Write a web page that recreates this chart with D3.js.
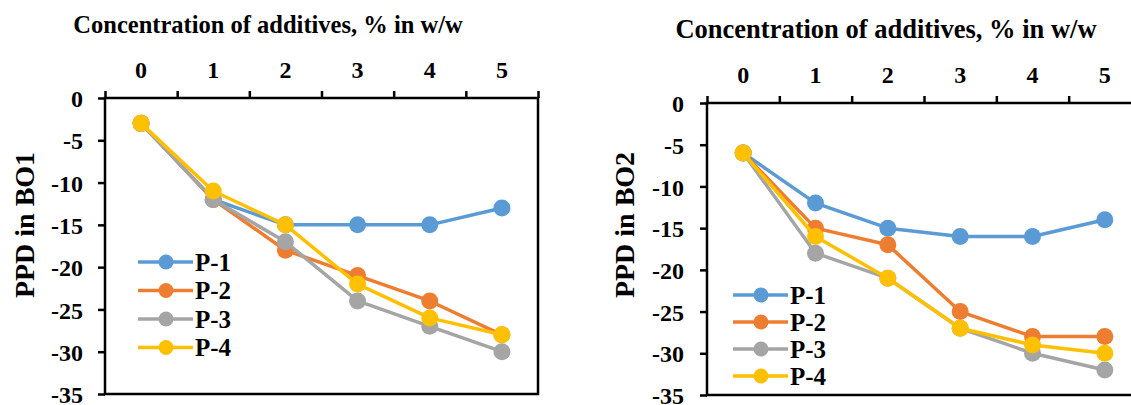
<!DOCTYPE html>
<html>
<head>
<meta charset="utf-8">
<script src="https://cdn.jsdelivr.net/npm/d3@7"></script>
<style>
  html, body { margin: 0; padding: 0; background: #fff; }
  svg text { font-family: "Liberation Serif", "Times New Roman", serif !important; font-weight: bold; fill: #000; }
</style>
</head>
<body>
<div id="chart"></div>
<script>
(function () {
  "use strict";

  // concentration of additives, % in w/w
  var concentrations = [0, 1, 2, 3, 4, 5];
  var seriesNames = ["P-1", "P-2", "P-3", "P-4"];
  var yTicks = [0, -5, -10, -15, -20, -25, -30, -35];

  // PPD in BO1
  var bo1P1 = [-3, -12, -15, -15, -15, -13];
  var bo1P2 = [-3, -12, -18, -21, -24, -28];
  var bo1P3 = [-3, -12, -17, -24, -27, -30];
  var bo1P4 = [-3, -11, -15, -22, -26, -28];

  // PPD in BO2
  var bo2P1 = [-6, -12, -15, -16, -16, -14];
  var bo2P2 = [-6, -15, -17, -25, -28, -28];
  var bo2P3 = [-6, -18, -21, -27, -30, -32];
  var bo2P4 = [-6, -16, -21, -27, -29, -30];

  // excel office palette
  var colors = d3.scaleOrdinal(seriesNames, ["#5B9BD5", "#ED7D31", "#A5A5A5", "#FFC000"]);

  var w = 1131,
    h = 405,
    font = '"Liberation Serif", "Times New Roman", serif',
    svg;

  function createSvg() {
    svg = d3.select("#chart")
      .append("svg")
      .attr("width", w)
      .attr("height", h);
  }

  function styleText(sel, size) {
    sel.attr("font-family", null)
      .style("font-family", font)
      .style("font-weight", "bold")
      .style("font-size", size + "px")
      .attr("fill", "#000");
  }

  function drawChart(c) {
    var g = svg.append("g");

    var x = d3.scaleBand()
      .domain(concentrations)
      .range([c.left, c.right]);

    // edges of the categories, for the tick marks
    var xEdge = d3.scaleLinear()
      .domain([0, concentrations.length])
      .range([c.left, c.right]);

    var y = d3.scaleLinear()
      .domain([0, -35])
      .range([c.top, c.bottom]);

    // plot frame
    g.append("rect")
      .attr("x", c.left)
      .attr("y", c.top)
      .attr("width", c.right - c.left)
      .attr("height", c.bottom - c.top)
      .attr("fill", "none")
      .attr("stroke", "#000")
      .attr("stroke-width", 2.5);

    // top axis: tick marks between categories
    g.append("g")
      .attr("transform", "translate(0," + c.top + ")")
      .call(d3.axisTop(xEdge).tickValues(d3.range(concentrations.length + 1)).tickSize(7).tickFormat(""))
      .call(function (a) {
        a.select(".domain").remove();
        a.selectAll("line").attr("stroke-width", 2.5);
      });

    // top axis labels at category centres
    g.append("g")
      .attr("transform", "translate(0," + c.top + ")")
      .call(d3.axisTop(x).tickSize(0).tickPadding(c.xLabelPad))
      .call(function (a) {
        a.attr("font-family", null).attr("font-size", null);
        a.select(".domain").remove();
        styleText(a.selectAll("text"), c.tickFont);
      });

    // left axis, hyphen instead of d3's minus sign
    g.append("g")
      .attr("transform", "translate(" + c.left + ",0)")
      .call(d3.axisLeft(y).tickValues(yTicks).tickSize(7).tickPadding(c.yLabelPad)
        .tickFormat(function (d) { return String(d); }))
      .call(function (a) {
        a.attr("font-family", null).attr("font-size", null);
        a.select(".domain").remove();
        a.selectAll("line").attr("stroke-width", 2.5);
        styleText(a.selectAll("text"), c.tickFont);
        a.selectAll("text").attr("dy", "0.36em");
      });

    // axis titles
    g.append("text")
      .attr("x", c.titleX)
      .attr("y", c.titleY)
      .attr("text-anchor", "middle")
      .call(styleText, c.titleFont)
      .text("Concentration of additives, % in w/w");

    g.append("text")
      .attr("transform", "translate(" + c.yTitleX + "," + c.yTitleY + ") rotate(-90)")
      .attr("text-anchor", "middle")
      .call(styleText, c.yTitleFont)
      .text(c.yTitle);

    var line = d3.line()
      .x(function (d, i) { return x(concentrations[i]) + x.bandwidth() / 2; })
      .y(function (d) { return y(d); });

    c.series.forEach(function (vals, k) {
      var name = seriesNames[k];
      g.append("path")
        .datum(vals)
        .attr("d", line)
        .attr("fill", "none")
        .attr("stroke", colors(name))
        .attr("stroke-width", 3.5)
        .attr("stroke-linejoin", "round");

      g.selectAll(".dot" + k)
        .data(vals)
        .enter().append("circle")
        .attr("cx", function (d, i) { return x(concentrations[i]) + x.bandwidth() / 2; })
        .attr("cy", function (d) { return y(d); })
        .attr("r", 8.5)
        .attr("fill", colors(name));
    });

    // legend
    var leg = g.selectAll(".legend")
      .data(seriesNames)
      .enter().append("g")
      .attr("transform", function (d, i) {
        return "translate(" + c.legX + "," + (c.legY + i * c.legStep) + ")";
      });

    leg.append("line")
      .attr("x1", 0)
      .attr("x2", 55)
      .attr("stroke", function (d) { return colors(d); })
      .attr("stroke-width", 3.5);

    leg.append("circle")
      .attr("cx", 28)
      .attr("r", 7.5)
      .attr("fill", function (d) { return colors(d); });

    leg.append("text")
      .attr("x", 57)
      .attr("dy", "0.35em")
      .call(styleText, c.legFont)
      .text(function (d) { return d; });
  }

  createSvg();

  drawChart({
    left: 105, right: 538, top: 98, bottom: 394,
    series: [bo1P1, bo1P2, bo1P3, bo1P4],
    tickFont: 24, xLabelPad: 20, yLabelPad: 15,
    titleX: 268, titleY: 33, titleFont: 24.5,
    yTitle: "PPD in BO1", yTitleX: 34, yTitleY: 225, yTitleFont: 28,
    legX: 138, legY: 262, legStep: 28.5, legFont: 25
  });

  drawChart({
    left: 707, right: 1141, top: 103, bottom: 395,
    series: [bo2P1, bo2P2, bo2P3, bo2P4],
    tickFont: 24, xLabelPad: 20, yLabelPad: 16,
    titleX: 886, titleY: 38, titleFont: 26.5,
    yTitle: "PPD in BO2", yTitleX: 634, yTitleY: 225, yTitleFont: 28,
    legX: 733, legY: 295, legStep: 27, legFont: 25
  });
})();
</script>
</body>
</html>
